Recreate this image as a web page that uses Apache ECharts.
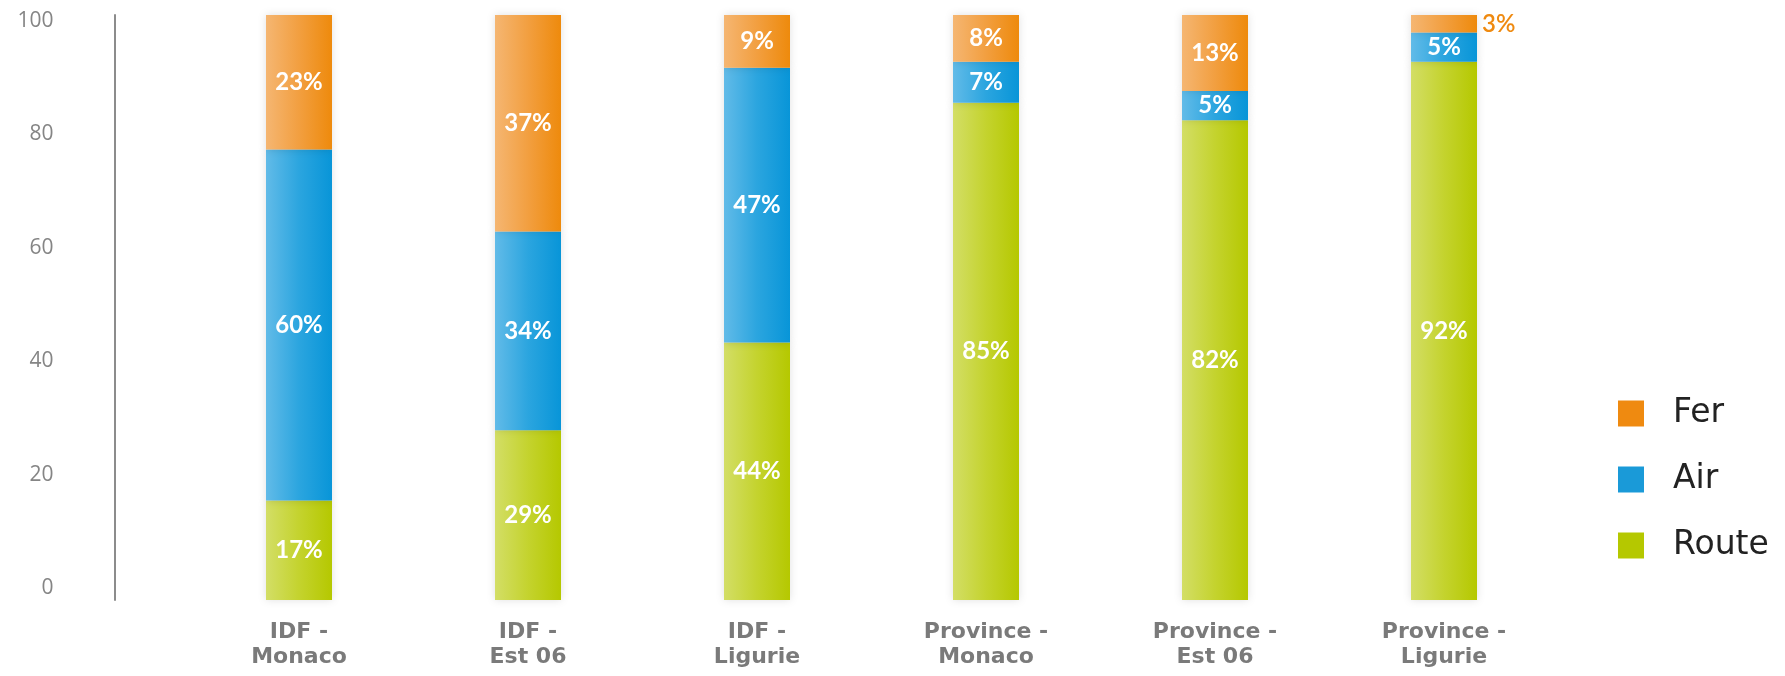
<!DOCTYPE html>
<html>
<head>
<meta charset="utf-8">
<script src="https://cdn.jsdelivr.net/npm/echarts@6/dist/echarts.min.js"></script>
<style>
html,body{margin:0;padding:0;background:#fff;}
#c{width:1785px;height:676px;}
</style>
</head>
<body>
<div id="c"></div>
<script>
const categories = ['IDF -\nMonaco', 'IDF -\nEst 06', 'IDF -\nLigurie', 'Province -\nMonaco', 'Province -\nEst 06', 'Province -\nLigurie'];
const routeValues = [17, 29, 44, 85, 82, 92];
const airValues = [60, 34, 47, 7, 5, 5];
const ferValues = [23, 37, 9, 8, 13, 3];
const yTickLabels = [0, 20, 40, 60, 80, 100];

const grad = (a, b, c) => ({
  type: 'linear', x: 0, y: 0, x2: 1, y2: 0,
  colorStops: [{offset: 0, color: a}, {offset: 0.5, color: b}, {offset: 1, color: c}]
});
const ORANGE = '#ef8a10', BLUE = '#1a9ad8', GREEN = '#b5c800';

const insideLabel = {
  show: true, position: 'inside', color: '#fff',
  fontFamily: 'Lato', fontWeight: 'bold', fontSize: 24,
  formatter: '{c}%'
};

function buildData(values, outsideColor) {
  return values.map(v => v < 5 ? {
    value: v,
    label: {position: 'right', distance: 5, color: outsideColor, fontWeight: 600}
  } : v);
}

function makeSeries(name, values, fill, solid) {
  return {
    name, type: 'bar', stack: 'total', barWidth: 66, yAxisIndex: 0,
    data: buildData(values, solid),
    itemStyle: {color: fill, shadowBlur: 8, shadowColor: 'rgba(0,0,0,0.12)'},
    label: insideLabel,
    emphasis: {disabled: true}
  };
}

const chart = echarts.init(document.getElementById('c'), null, {renderer: 'canvas'});
chart.setOption({
  animation: false,
  grid: {left: 184.5, right: 226.5, top: 15, bottom: 76},
  xAxis: {
    type: 'category', data: categories,
    axisLine: {show: false}, axisTick: {show: false},
    axisLabel: {
      margin: 20, color: '#7a7a7a', fontFamily: 'DejaVu Sans', fontWeight: 'bold',
      fontSize: 22, lineHeight: 25, interval: 0
    }
  },
  yAxis: [{
    type: 'value', min: 0, max: 100, show: false
  }, {
    type: 'value', min: -2.03, max: 100.98, position: 'left', offset: 70,
    axisLine: {show: true, lineStyle: {color: '#8c8c8c', width: 2}},
    axisTick: {show: false},
    splitLine: {show: false},
    axisLabel: {
      customValues: yTickLabels, margin: 61, color: '#858585',
      fontFamily: 'Open Sans', fontSize: 21
    }
  }],
  legend: {
    orient: 'vertical', left: 1613, top: 392,
    itemWidth: 26, itemHeight: 26, itemGap: 33, icon: 'rect',
    textStyle: {fontFamily: 'DejaVu Sans', fontSize: 33, lineHeight: 33, color: '#222', padding: [0, 0, 0, 24]},
    data: [
      {name: 'Fer', itemStyle: {color: ORANGE}},
      {name: 'Air', itemStyle: {color: BLUE}},
      {name: 'Route', itemStyle: {color: GREEN}}
    ]
  },
  series: [
    makeSeries('Route', routeValues, grad('#d3de66', '#c4d32e', '#b5c800'), GREEN),
    makeSeries('Air', airValues, grad('#62bbe8', '#2ba5df', '#0895d8'), BLUE),
    makeSeries('Fer', ferValues, grad('#f5b672', '#f29f40', '#ee8a0c'), ORANGE)
  ]
});
</script>
</body>
</html>
